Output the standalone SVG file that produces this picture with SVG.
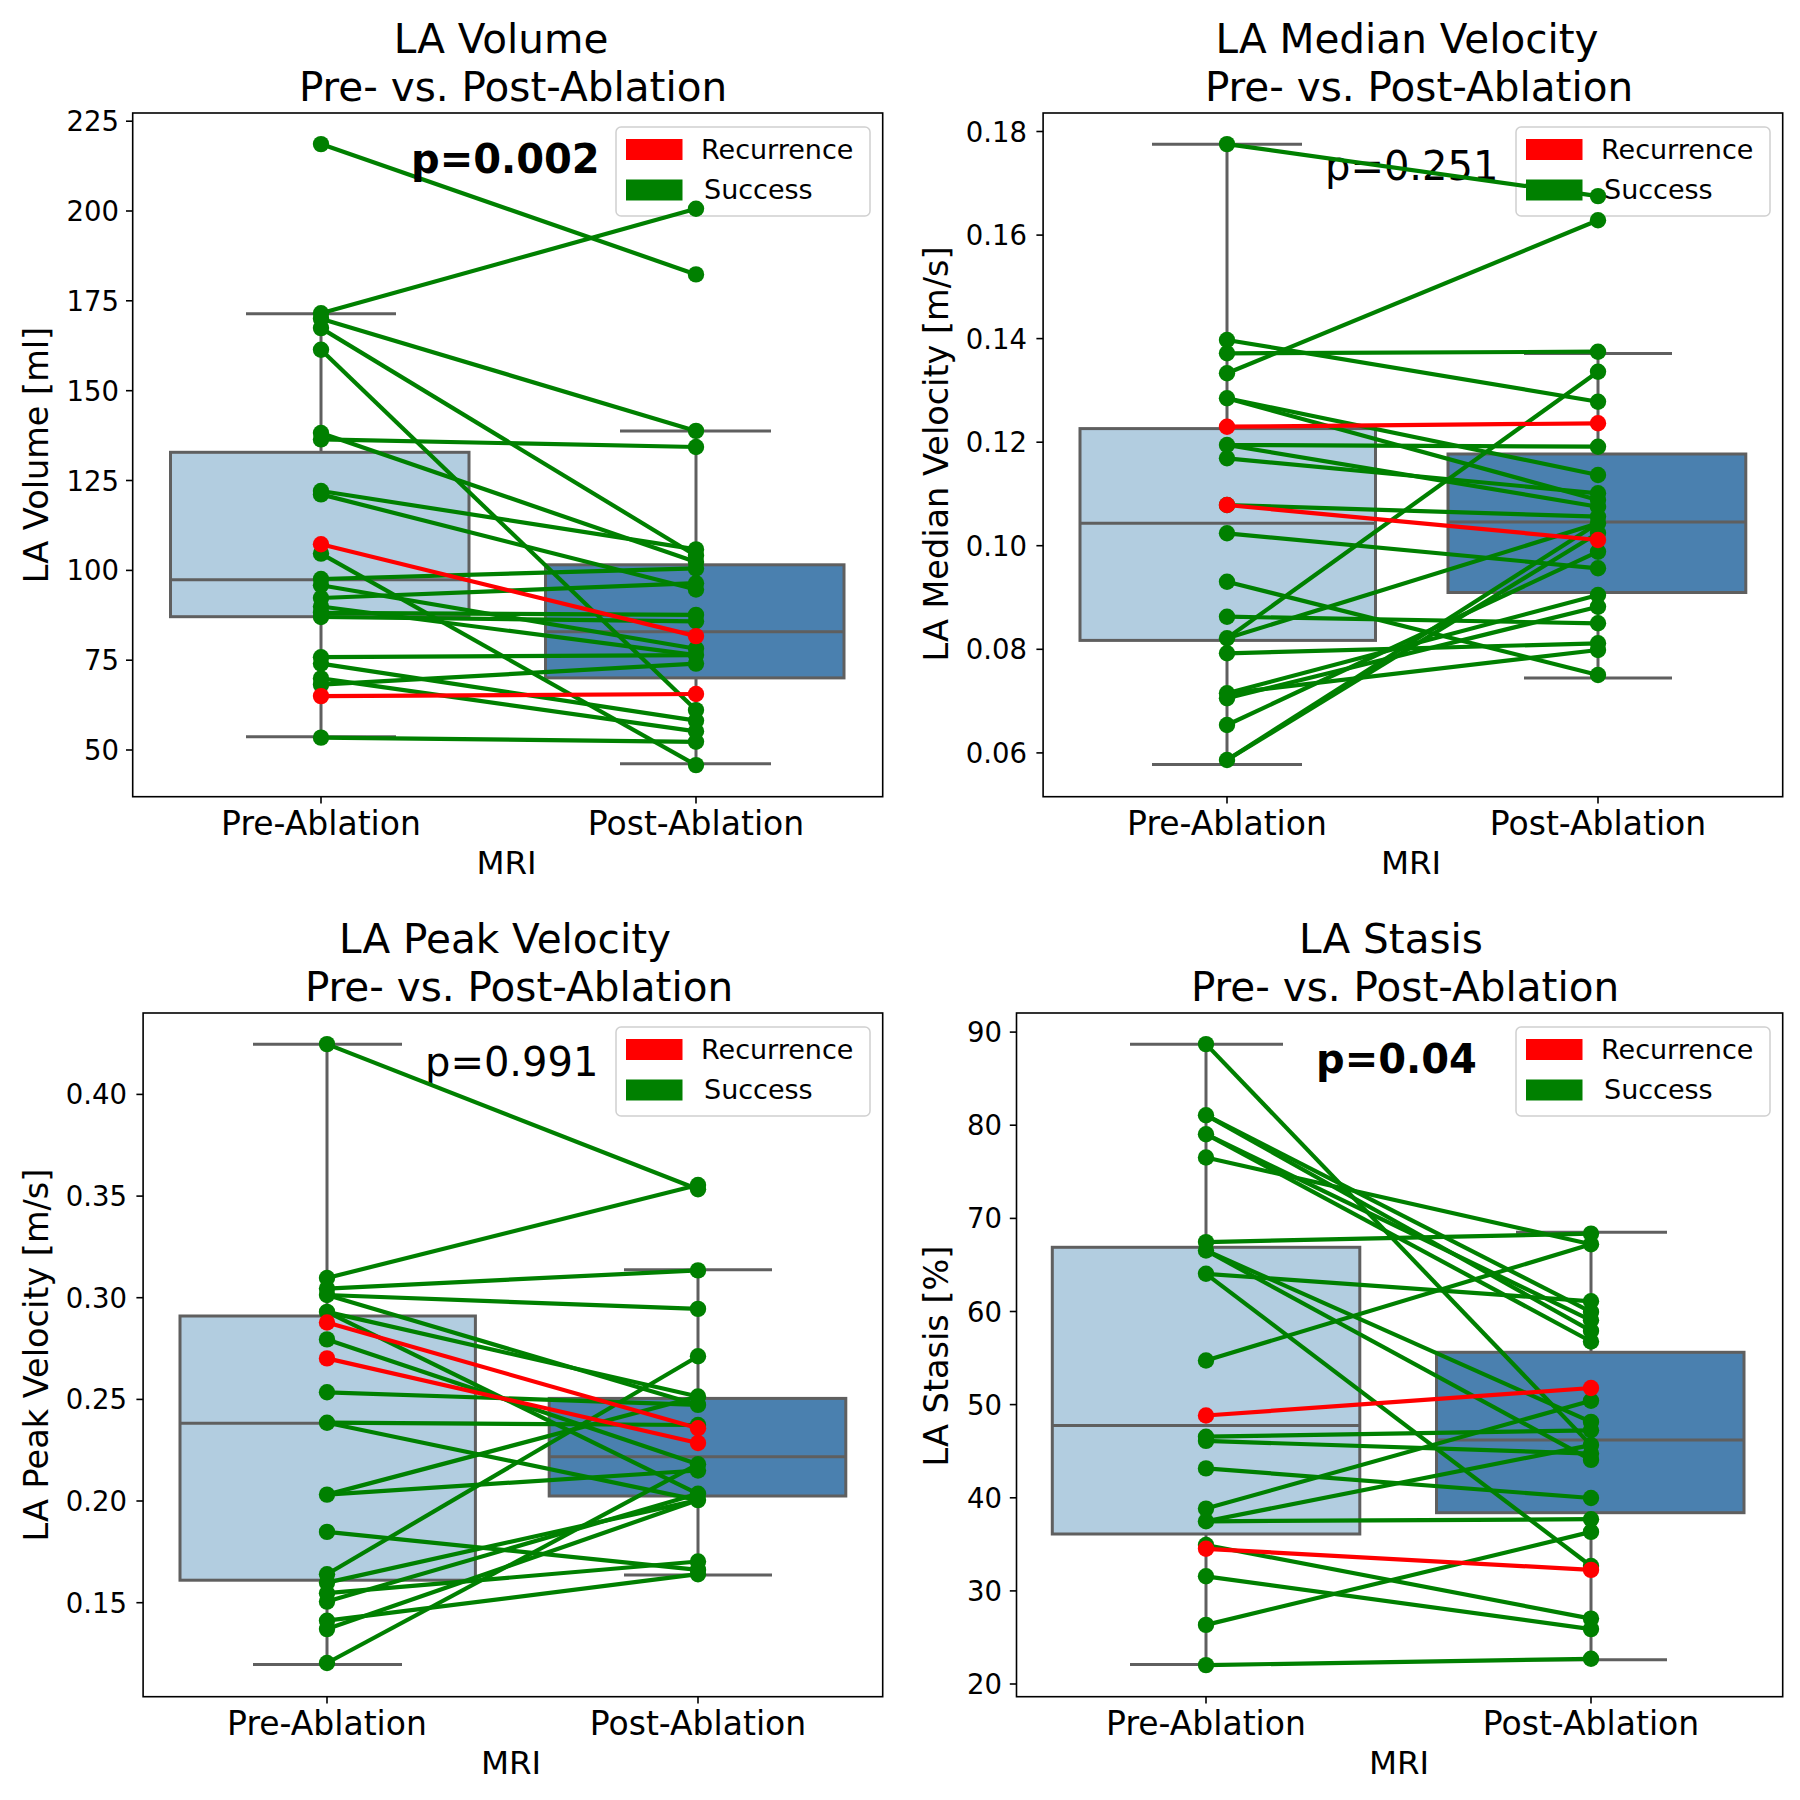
<svg xmlns="http://www.w3.org/2000/svg" width="1800" height="1800" viewBox="0 0 1800 1800">
<style>
text{font-family:"DejaVu Sans","Liberation Sans",sans-serif;fill:#000}
.frame{fill:none;stroke:#000;stroke-width:1.6}
.tk{stroke:#000;stroke-width:1.6}
.ytl{font-size:27.5px;text-anchor:end;dominant-baseline:central}
.xtl{font-size:33px;text-anchor:middle}
.xl{font-size:32.5px;text-anchor:middle}
.yl{font-size:33.5px;text-anchor:middle}
.ttl{font-size:40.5px;text-anchor:middle}
.pv{font-size:40px}
.pb{font-size:40px;font-weight:bold}
.b1{fill:#b2cde0;stroke:#5f5f5f;stroke-width:3}
.b2{fill:#4a80af;stroke:#5f5f5f;stroke-width:3}
.wh{stroke:#5f5f5f;stroke-width:3;fill:none}
.leg{fill:#fff;fill-opacity:0.8;stroke:#d0d0d0;stroke-width:1.5}
.lt{font-size:27px}
.g line{stroke:#008000;stroke-width:4.2}
.g circle{fill:#008000}
.r line{stroke:#ff0000;stroke-width:4.2}
.r circle{fill:#ff0000}
</style>
<rect width="1800" height="1800" fill="#fff"/>

<!-- Panel 1 -->
<g id="panel-volume">
<text class="ttl" x="501" y="52.5">LA Volume</text>
<text class="ttl" x="513" y="101">Pre- vs. Post-Ablation</text>
<g id="p1-box-pre">
<line class="wh" x1="321" y1="452.3" x2="321" y2="313.8"/><line class="wh" x1="321" y1="616.7" x2="321" y2="736.7"/>
<line class="wh" x1="246" y1="313.8" x2="396" y2="313.8"/><line class="wh" x1="246" y1="736.7" x2="396" y2="736.7"/>
<rect class="b1" x="170.5" y="452.3" width="298.5" height="164.4"/>
<line class="wh" x1="170.5" y1="579.8" x2="469" y2="579.8"/>
</g>
<g id="p1-box-post">
<line class="wh" x1="696" y1="564.8" x2="696" y2="431"/><line class="wh" x1="696" y1="677.9" x2="696" y2="763.8"/>
<line class="wh" x1="620" y1="431" x2="771" y2="431"/><line class="wh" x1="620" y1="763.8" x2="771" y2="763.8"/>
<rect class="b2" x="545.5" y="564.8" width="298.5" height="113.1"/>
<line class="wh" x1="545.5" y1="631.7" x2="844" y2="631.7"/>
</g>
<rect class="frame" x="132.7" y="113" width="750" height="683.7"/>
<g id="p1-yaxis">
<line class="tk" x1="126" y1="121.2" x2="132.7" y2="121.2"/><text class="ytl" x="119" y="121.2">225</text>
<line class="tk" x1="126" y1="211" x2="132.7" y2="211"/><text class="ytl" x="119" y="211">200</text>
<line class="tk" x1="126" y1="300.8" x2="132.7" y2="300.8"/><text class="ytl" x="119" y="300.8">175</text>
<line class="tk" x1="126" y1="390.7" x2="132.7" y2="390.7"/><text class="ytl" x="119" y="390.7">150</text>
<line class="tk" x1="126" y1="480.5" x2="132.7" y2="480.5"/><text class="ytl" x="119" y="480.5">125</text>
<line class="tk" x1="126" y1="570.4" x2="132.7" y2="570.4"/><text class="ytl" x="119" y="570.4">100</text>
<line class="tk" x1="126" y1="660.2" x2="132.7" y2="660.2"/><text class="ytl" x="119" y="660.2">75</text>
<line class="tk" x1="126" y1="750" x2="132.7" y2="750"/><text class="ytl" x="119" y="750">50</text>
<text class="yl" transform="translate(48,455) rotate(-90)">LA Volume [ml]</text>
</g>
<g id="p1-xaxis">
<line class="tk" x1="321" y1="796.7" x2="321" y2="803.5"/><line class="tk" x1="696" y1="796.7" x2="696" y2="803.5"/>
<text class="xtl" x="321" y="835">Pre-Ablation</text><text class="xtl" x="696" y="835">Post-Ablation</text>
<text class="xl" x="506.5" y="874">MRI</text>
</g>
<g id="p1-legend">
<rect class="leg" x="616" y="127" width="254" height="89" rx="5"/>
<rect x="626" y="139" width="56.5" height="21" fill="#ff0000"/>
<rect x="626" y="179.5" width="56.5" height="21" fill="#008000"/>
<text class="lt" x="701" y="158.6">Recurrence</text>
<text class="lt" x="704" y="199">Success</text>
</g>
<g id="p1-connectors">
<g class="g">
<line x1="321" y1="144.1" x2="696" y2="274.4"/><line x1="321" y1="313.3" x2="696" y2="208.8"/><line x1="321" y1="318.8" x2="696" y2="430.9"/><line x1="321" y1="328.1" x2="696" y2="555.7"/><line x1="321" y1="349.7" x2="696" y2="710.1"/><line x1="321" y1="433" x2="696" y2="562"/><line x1="321" y1="439.4" x2="696" y2="447"/><line x1="321" y1="491" x2="696" y2="549.4"/><line x1="321" y1="494.4" x2="696" y2="589.5"/><line x1="321" y1="553.6" x2="696" y2="765.1"/><line x1="321" y1="579" x2="696" y2="568.4"/><line x1="321" y1="585.3" x2="696" y2="648.8"/><line x1="321" y1="598" x2="696" y2="583.2"/><line x1="321" y1="606.5" x2="696" y2="655.1"/><line x1="321" y1="612.8" x2="696" y2="614.9"/><line x1="321" y1="617" x2="696" y2="621.3"/><line x1="321" y1="657.2" x2="696" y2="655.1"/><line x1="321" y1="663.6" x2="696" y2="720.7"/><line x1="321" y1="678.4" x2="696" y2="731.3"/><line x1="321" y1="684.7" x2="696" y2="663.6"/><line x1="321" y1="737.6" x2="696" y2="741.8"/>
<circle cx="321" cy="144.1" r="8.2"/><circle cx="321" cy="313.3" r="8.2"/><circle cx="321" cy="318.8" r="8.2"/><circle cx="321" cy="328.1" r="8.2"/><circle cx="321" cy="349.7" r="8.2"/><circle cx="321" cy="433" r="8.2"/><circle cx="321" cy="439.4" r="8.2"/><circle cx="321" cy="491" r="8.2"/><circle cx="321" cy="494.4" r="8.2"/><circle cx="321" cy="553.6" r="8.2"/><circle cx="321" cy="579" r="8.2"/><circle cx="321" cy="585.3" r="8.2"/><circle cx="321" cy="598" r="8.2"/><circle cx="321" cy="606.5" r="8.2"/><circle cx="321" cy="612.8" r="8.2"/><circle cx="321" cy="617" r="8.2"/><circle cx="321" cy="657.2" r="8.2"/><circle cx="321" cy="663.6" r="8.2"/><circle cx="321" cy="678.4" r="8.2"/><circle cx="321" cy="684.7" r="8.2"/><circle cx="321" cy="737.6" r="8.2"/>
<circle cx="696" cy="274.4" r="8.2"/><circle cx="696" cy="208.8" r="8.2"/><circle cx="696" cy="430.9" r="8.2"/><circle cx="696" cy="555.7" r="8.2"/><circle cx="696" cy="710.1" r="8.2"/><circle cx="696" cy="562" r="8.2"/><circle cx="696" cy="447" r="8.2"/><circle cx="696" cy="549.4" r="8.2"/><circle cx="696" cy="589.5" r="8.2"/><circle cx="696" cy="765.1" r="8.2"/><circle cx="696" cy="568.4" r="8.2"/><circle cx="696" cy="648.8" r="8.2"/><circle cx="696" cy="583.2" r="8.2"/><circle cx="696" cy="655.1" r="8.2"/><circle cx="696" cy="614.9" r="8.2"/><circle cx="696" cy="621.3" r="8.2"/><circle cx="696" cy="720.7" r="8.2"/><circle cx="696" cy="731.3" r="8.2"/><circle cx="696" cy="663.6" r="8.2"/><circle cx="696" cy="741.8" r="8.2"/>
</g>
<g class="r">
<line x1="321" y1="544.3" x2="696" y2="636.1"/><line x1="321" y1="696.1" x2="696" y2="694"/>
<circle cx="321" cy="544.3" r="8.2"/><circle cx="696" cy="636.1" r="8.2"/><circle cx="321" cy="696.1" r="8.2"/><circle cx="696" cy="694" r="8.2"/>
</g>
</g>
<text class="pb" x="411" y="173">p=0.002</text>
</g>

<!-- Panel 2 -->
<g id="panel-median">
<text class="ttl" x="1407" y="52.5">LA Median Velocity</text>
<text class="ttl" x="1419" y="101">Pre- vs. Post-Ablation</text>
<g id="p2-box-pre">
<line class="wh" x1="1227" y1="428.6" x2="1227" y2="144.2"/><line class="wh" x1="1227" y1="640.4" x2="1227" y2="764.4"/>
<line class="wh" x1="1152" y1="144.2" x2="1302" y2="144.2"/><line class="wh" x1="1152" y1="764.4" x2="1302" y2="764.4"/>
<rect class="b1" x="1080" y="428.6" width="295.5" height="211.8"/>
<line class="wh" x1="1080" y1="523.3" x2="1375.5" y2="523.3"/>
</g>
<g id="p2-box-post">
<line class="wh" x1="1598" y1="454" x2="1598" y2="353.6"/><line class="wh" x1="1598" y1="592.5" x2="1598" y2="677.9"/>
<line class="wh" x1="1524" y1="353.6" x2="1672" y2="353.6"/><line class="wh" x1="1524" y1="677.9" x2="1672" y2="677.9"/>
<rect class="b2" x="1448" y="454" width="297.8" height="138.5"/>
<line class="wh" x1="1448" y1="522.1" x2="1745.8" y2="522.1"/>
</g>
<rect class="frame" x="1043.1" y="113" width="739.6" height="683.7"/>
<g id="p2-yaxis">
<line class="tk" x1="1036.4" y1="131.5" x2="1043.1" y2="131.5"/><text class="ytl" x="1027" y="131.5">0.18</text>
<line class="tk" x1="1036.4" y1="235.1" x2="1043.1" y2="235.1"/><text class="ytl" x="1027" y="235.1">0.16</text>
<line class="tk" x1="1036.4" y1="338.6" x2="1043.1" y2="338.6"/><text class="ytl" x="1027" y="338.6">0.14</text>
<line class="tk" x1="1036.4" y1="442.2" x2="1043.1" y2="442.2"/><text class="ytl" x="1027" y="442.2">0.12</text>
<line class="tk" x1="1036.4" y1="545.7" x2="1043.1" y2="545.7"/><text class="ytl" x="1027" y="545.7">0.10</text>
<line class="tk" x1="1036.4" y1="649.3" x2="1043.1" y2="649.3"/><text class="ytl" x="1027" y="649.3">0.08</text>
<line class="tk" x1="1036.4" y1="752.9" x2="1043.1" y2="752.9"/><text class="ytl" x="1027" y="752.9">0.06</text>
<text class="yl" transform="translate(948,454) rotate(-90)">LA Median Velocity [m/s]</text>
</g>
<g id="p2-xaxis">
<line class="tk" x1="1227" y1="796.7" x2="1227" y2="803.5"/><line class="tk" x1="1598" y1="796.7" x2="1598" y2="803.5"/>
<text class="xtl" x="1227" y="835">Pre-Ablation</text><text class="xtl" x="1598" y="835">Post-Ablation</text>
<text class="xl" x="1411" y="874">MRI</text>
</g>
<g id="p2-legend">
<rect class="leg" x="1516" y="127" width="254" height="89" rx="5"/>
<rect x="1526" y="139" width="56.5" height="21" fill="#ff0000"/>
<rect x="1526" y="179.5" width="56.5" height="21" fill="#008000"/>
<text class="lt" x="1601" y="158.6">Recurrence</text>
<text class="lt" x="1604" y="199">Success</text>
</g>
<text class="pv" x="1325" y="180">p=0.251</text>
<g id="p2-connectors">
<g class="g">
<line x1="1227" y1="144.1" x2="1598" y2="196.1"/><line x1="1227" y1="340" x2="1598" y2="401.7"/><line x1="1227" y1="353.3" x2="1598" y2="351.7"/><line x1="1227" y1="373.3" x2="1598" y2="220.3"/><line x1="1227" y1="398.3" x2="1598" y2="475"/><line x1="1227" y1="398.3" x2="1598" y2="500"/><line x1="1227" y1="445" x2="1598" y2="446.7"/><line x1="1227" y1="445" x2="1598" y2="506.7"/><line x1="1227" y1="458.3" x2="1598" y2="493.3"/><line x1="1227" y1="505" x2="1598" y2="516.7"/><line x1="1227" y1="533.3" x2="1598" y2="568.3"/><line x1="1227" y1="581.7" x2="1598" y2="675"/><line x1="1227" y1="616.7" x2="1598" y2="623.3"/><line x1="1227" y1="638.3" x2="1598" y2="371.7"/><line x1="1227" y1="638.3" x2="1598" y2="523.3"/><line x1="1227" y1="653.3" x2="1598" y2="643.3"/><line x1="1227" y1="693.3" x2="1598" y2="595"/><line x1="1227" y1="698.3" x2="1598" y2="606.7"/><line x1="1227" y1="693.3" x2="1598" y2="650"/><line x1="1227" y1="725" x2="1598" y2="551.7"/><line x1="1227" y1="760" x2="1598" y2="523.3"/><line x1="1227" y1="760" x2="1598" y2="533"/>
<circle cx="1227" cy="144.1" r="8.2"/><circle cx="1227" cy="340" r="8.2"/><circle cx="1227" cy="353.3" r="8.2"/><circle cx="1227" cy="373.3" r="8.2"/><circle cx="1227" cy="398.3" r="8.2"/><circle cx="1227" cy="445" r="8.2"/><circle cx="1227" cy="458.3" r="8.2"/><circle cx="1227" cy="505" r="8.2"/><circle cx="1227" cy="533.3" r="8.2"/><circle cx="1227" cy="581.7" r="8.2"/><circle cx="1227" cy="616.7" r="8.2"/><circle cx="1227" cy="638.3" r="8.2"/><circle cx="1227" cy="653.3" r="8.2"/><circle cx="1227" cy="693.3" r="8.2"/><circle cx="1227" cy="698.3" r="8.2"/><circle cx="1227" cy="725" r="8.2"/><circle cx="1227" cy="760" r="8.2"/>
<circle cx="1598" cy="196.1" r="8.2"/><circle cx="1598" cy="220.3" r="8.2"/><circle cx="1598" cy="351.7" r="8.2"/><circle cx="1598" cy="371.7" r="8.2"/><circle cx="1598" cy="401.7" r="8.2"/><circle cx="1598" cy="446.7" r="8.2"/><circle cx="1598" cy="475" r="8.2"/><circle cx="1598" cy="493.3" r="8.2"/><circle cx="1598" cy="500" r="8.2"/><circle cx="1598" cy="506.7" r="8.2"/><circle cx="1598" cy="516.7" r="8.2"/><circle cx="1598" cy="523.3" r="8.2"/><circle cx="1598" cy="533" r="8.2"/><circle cx="1598" cy="551.7" r="8.2"/><circle cx="1598" cy="568.3" r="8.2"/><circle cx="1598" cy="595" r="8.2"/><circle cx="1598" cy="606.7" r="8.2"/><circle cx="1598" cy="623.3" r="8.2"/><circle cx="1598" cy="643.3" r="8.2"/><circle cx="1598" cy="650" r="8.2"/><circle cx="1598" cy="675" r="8.2"/>
</g>
<g class="r">
<line x1="1227" y1="426.7" x2="1598" y2="423.3"/><line x1="1227" y1="505" x2="1598" y2="540"/>
<circle cx="1227" cy="426.7" r="8.2"/><circle cx="1598" cy="423.3" r="8.2"/><circle cx="1227" cy="505" r="8.2"/><circle cx="1598" cy="540" r="8.2"/>
</g>
</g>
</g>

<!-- Panel 3 -->
<g id="panel-peak">
<text class="ttl" x="505" y="952.5">LA Peak Velocity</text>
<text class="ttl" x="519" y="1001">Pre- vs. Post-Ablation</text>
<g id="p3-box-pre">
<line class="wh" x1="327" y1="1316" x2="327" y2="1044.2"/><line class="wh" x1="327" y1="1580.2" x2="327" y2="1664.4"/>
<line class="wh" x1="253" y1="1044.2" x2="402" y2="1044.2"/><line class="wh" x1="253" y1="1664.4" x2="402" y2="1664.4"/>
<rect class="b1" x="180" y="1316" width="295.4" height="264.2"/>
<line class="wh" x1="180" y1="1423.3" x2="475.4" y2="1423.3"/>
</g>
<g id="p3-box-post">
<line class="wh" x1="698" y1="1398.4" x2="698" y2="1269.8"/><line class="wh" x1="698" y1="1496" x2="698" y2="1575"/>
<line class="wh" x1="624" y1="1269.8" x2="772" y2="1269.8"/><line class="wh" x1="624" y1="1575" x2="772" y2="1575"/>
<rect class="b2" x="549.2" y="1398.4" width="296.6" height="97.6"/>
<line class="wh" x1="549.2" y1="1456.7" x2="845.8" y2="1456.7"/>
</g>
<rect class="frame" x="143.1" y="1013" width="739.6" height="683.7"/>
<g id="p3-yaxis">
<line class="tk" x1="136.4" y1="1094.4" x2="143.1" y2="1094.4"/><text class="ytl" x="127" y="1094.4">0.40</text>
<line class="tk" x1="136.4" y1="1196.1" x2="143.1" y2="1196.1"/><text class="ytl" x="127" y="1196.1">0.35</text>
<line class="tk" x1="136.4" y1="1297.7" x2="143.1" y2="1297.7"/><text class="ytl" x="127" y="1297.7">0.30</text>
<line class="tk" x1="136.4" y1="1399.4" x2="143.1" y2="1399.4"/><text class="ytl" x="127" y="1399.4">0.25</text>
<line class="tk" x1="136.4" y1="1501" x2="143.1" y2="1501"/><text class="ytl" x="127" y="1501">0.20</text>
<line class="tk" x1="136.4" y1="1602.7" x2="143.1" y2="1602.7"/><text class="ytl" x="127" y="1602.7">0.15</text>
<text class="yl" transform="translate(48,1355) rotate(-90)">LA Peak Velocity [m/s]</text>
</g>
<g id="p3-xaxis">
<line class="tk" x1="327" y1="1696.7" x2="327" y2="1703.5"/><line class="tk" x1="698" y1="1696.7" x2="698" y2="1703.5"/>
<text class="xtl" x="327" y="1735">Pre-Ablation</text><text class="xtl" x="698" y="1735">Post-Ablation</text>
<text class="xl" x="511" y="1774">MRI</text>
</g>
<g id="p3-legend">
<rect class="leg" x="616" y="1027" width="254" height="89" rx="5"/>
<rect x="626" y="1039" width="56.5" height="21" fill="#ff0000"/>
<rect x="626" y="1079.5" width="56.5" height="21" fill="#008000"/>
<text class="lt" x="701" y="1058.6">Recurrence</text>
<text class="lt" x="704" y="1099">Success</text>
</g>
<text class="pv" x="425" y="1076">p=0.991</text>
<g id="p3-connectors">
<g class="g">
<line x1="327" y1="1044.1" x2="698" y2="1189.2"/><line x1="327" y1="1278" x2="698" y2="1185"/><line x1="327" y1="1288.6" x2="698" y2="1270.4"/><line x1="327" y1="1295" x2="698" y2="1308.9"/><line x1="327" y1="1295" x2="698" y2="1404.9"/><line x1="327" y1="1311.9" x2="698" y2="1396.5"/><line x1="327" y1="1339.4" x2="698" y2="1464.2"/><line x1="327" y1="1311.9" x2="698" y2="1493.8"/><line x1="327" y1="1392.3" x2="698" y2="1404.9"/><line x1="327" y1="1422.7" x2="698" y2="1425"/><line x1="327" y1="1422.7" x2="698" y2="1500.1"/><line x1="327" y1="1494.6" x2="698" y2="1396.5"/><line x1="327" y1="1494.6" x2="698" y2="1470.5"/><line x1="327" y1="1531.9" x2="698" y2="1569.9"/><line x1="327" y1="1574.2" x2="698" y2="1356.3"/><line x1="327" y1="1582.6" x2="698" y2="1500.1"/><line x1="327" y1="1593.2" x2="698" y2="1561.5"/><line x1="327" y1="1601.6" x2="698" y2="1493.8"/><line x1="327" y1="1620.7" x2="698" y2="1574.2"/><line x1="327" y1="1629.1" x2="698" y2="1500.1"/><line x1="327" y1="1663" x2="698" y2="1464.2"/>
<circle cx="327" cy="1044.1" r="8.2"/><circle cx="327" cy="1278" r="8.2"/><circle cx="327" cy="1288.6" r="8.2"/><circle cx="327" cy="1295" r="8.2"/><circle cx="327" cy="1311.9" r="8.2"/><circle cx="327" cy="1339.4" r="8.2"/><circle cx="327" cy="1392.3" r="8.2"/><circle cx="327" cy="1422.7" r="8.2"/><circle cx="327" cy="1494.6" r="8.2"/><circle cx="327" cy="1531.9" r="8.2"/><circle cx="327" cy="1574.2" r="8.2"/><circle cx="327" cy="1582.6" r="8.2"/><circle cx="327" cy="1593.2" r="8.2"/><circle cx="327" cy="1601.6" r="8.2"/><circle cx="327" cy="1620.7" r="8.2"/><circle cx="327" cy="1629.1" r="8.2"/><circle cx="327" cy="1663" r="8.2"/>
<circle cx="698" cy="1189.2" r="8.2"/><circle cx="698" cy="1185" r="8.2"/><circle cx="698" cy="1270.4" r="8.2"/><circle cx="698" cy="1308.9" r="8.2"/><circle cx="698" cy="1404.9" r="8.2"/><circle cx="698" cy="1396.5" r="8.2"/><circle cx="698" cy="1464.2" r="8.2"/><circle cx="698" cy="1493.8" r="8.2"/><circle cx="698" cy="1425" r="8.2"/><circle cx="698" cy="1500.1" r="8.2"/><circle cx="698" cy="1470.5" r="8.2"/><circle cx="698" cy="1569.9" r="8.2"/><circle cx="698" cy="1356.3" r="8.2"/><circle cx="698" cy="1561.5" r="8.2"/><circle cx="698" cy="1574.2" r="8.2"/>
</g>
<g class="r">
<line x1="327" y1="1322.5" x2="698" y2="1428.2"/><line x1="327" y1="1358.4" x2="698" y2="1443"/>
<circle cx="327" cy="1322.5" r="8.2"/><circle cx="698" cy="1428.2" r="8.2"/><circle cx="327" cy="1358.4" r="8.2"/><circle cx="698" cy="1443" r="8.2"/>
</g>
</g>
</g>

<!-- Panel 4 -->
<g id="panel-stasis">
<text class="ttl" x="1391" y="952.5">LA Stasis</text>
<text class="ttl" x="1405" y="1001">Pre- vs. Post-Ablation</text>
<g id="p4-box-pre">
<line class="wh" x1="1206" y1="1247.3" x2="1206" y2="1044.2"/><line class="wh" x1="1206" y1="1534" x2="1206" y2="1664.4"/>
<line class="wh" x1="1130" y1="1044.2" x2="1283" y2="1044.2"/><line class="wh" x1="1130" y1="1664.4" x2="1283" y2="1664.4"/>
<rect class="b1" x="1052.3" y="1247.3" width="307.5" height="286.7"/>
<line class="wh" x1="1052.3" y1="1425.6" x2="1359.8" y2="1425.6"/>
</g>
<g id="p4-box-post">
<line class="wh" x1="1591" y1="1352.3" x2="1591" y2="1232.3"/><line class="wh" x1="1591" y1="1512.7" x2="1591" y2="1659.8"/>
<line class="wh" x1="1516" y1="1232.3" x2="1667" y2="1232.3"/><line class="wh" x1="1516" y1="1659.8" x2="1667" y2="1659.8"/>
<rect class="b2" x="1436.5" y="1352.3" width="307.5" height="160.4"/>
<line class="wh" x1="1436.5" y1="1440" x2="1744" y2="1440"/>
</g>
<rect class="frame" x="1016.5" y="1013" width="766.2" height="683.7"/>
<g id="p4-yaxis">
<line class="tk" x1="1009.8" y1="1032.1" x2="1016.5" y2="1032.1"/><text class="ytl" x="1002" y="1032.1">90</text>
<line class="tk" x1="1009.8" y1="1125.2" x2="1016.5" y2="1125.2"/><text class="ytl" x="1002" y="1125.2">80</text>
<line class="tk" x1="1009.8" y1="1218.4" x2="1016.5" y2="1218.4"/><text class="ytl" x="1002" y="1218.4">70</text>
<line class="tk" x1="1009.8" y1="1311.5" x2="1016.5" y2="1311.5"/><text class="ytl" x="1002" y="1311.5">60</text>
<line class="tk" x1="1009.8" y1="1404.6" x2="1016.5" y2="1404.6"/><text class="ytl" x="1002" y="1404.6">50</text>
<line class="tk" x1="1009.8" y1="1497.8" x2="1016.5" y2="1497.8"/><text class="ytl" x="1002" y="1497.8">40</text>
<line class="tk" x1="1009.8" y1="1590.9" x2="1016.5" y2="1590.9"/><text class="ytl" x="1002" y="1590.9">30</text>
<line class="tk" x1="1009.8" y1="1684" x2="1016.5" y2="1684"/><text class="ytl" x="1002" y="1684">20</text>
<text class="yl" transform="translate(948,1356) rotate(-90)">LA Stasis [%]</text>
</g>
<g id="p4-xaxis">
<line class="tk" x1="1206" y1="1696.7" x2="1206" y2="1703.5"/><line class="tk" x1="1591" y1="1696.7" x2="1591" y2="1703.5"/>
<text class="xtl" x="1206" y="1735">Pre-Ablation</text><text class="xtl" x="1591" y="1735">Post-Ablation</text>
<text class="xl" x="1399" y="1774">MRI</text>
</g>
<g id="p4-legend">
<rect class="leg" x="1516" y="1027" width="254" height="89" rx="5"/>
<rect x="1526" y="1039" width="56.5" height="21" fill="#ff0000"/>
<rect x="1526" y="1079.5" width="56.5" height="21" fill="#008000"/>
<text class="lt" x="1601" y="1058.6">Recurrence</text>
<text class="lt" x="1604" y="1099">Success</text>
</g>
<text class="pb" x="1316" y="1073">p=0.04</text>
<g id="p4-connectors">
<g class="g">
<line x1="1206" y1="1044.1" x2="1591" y2="1445.1"/><line x1="1206" y1="1115.2" x2="1591" y2="1311.9"/><line x1="1206" y1="1115.2" x2="1591" y2="1330.9"/><line x1="1206" y1="1134.2" x2="1591" y2="1341.5"/><line x1="1206" y1="1157.5" x2="1591" y2="1244.2"/><line x1="1206" y1="1242.1" x2="1591" y2="1233.6"/><line x1="1206" y1="1250.5" x2="1591" y2="1421.9"/><line x1="1206" y1="1250.5" x2="1591" y2="1459.9"/><line x1="1206" y1="1273.8" x2="1591" y2="1301.3"/><line x1="1206" y1="1273.8" x2="1591" y2="1566"/><line x1="1206" y1="1360.5" x2="1591" y2="1244.2"/><line x1="1206" y1="1436.7" x2="1591" y2="1430.3"/><line x1="1206" y1="1440.9" x2="1591" y2="1453.6"/><line x1="1206" y1="1468.4" x2="1591" y2="1498"/><line x1="1206" y1="1508.6" x2="1591" y2="1400.7"/><line x1="1206" y1="1521.3" x2="1591" y2="1519.2"/><line x1="1206" y1="1521.3" x2="1591" y2="1445.1"/><line x1="1206" y1="1576.3" x2="1591" y2="1629.1"/><line x1="1206" y1="1545" x2="1591" y2="1618.6"/><line x1="1206" y1="1624.9" x2="1591" y2="1531.9"/><line x1="1206" y1="1665.1" x2="1591" y2="1658.8"/><line x1="1206" y1="1134.2" x2="1591" y2="1320.3"/>
<circle cx="1206" cy="1044.1" r="8.2"/><circle cx="1206" cy="1115.2" r="8.2"/><circle cx="1206" cy="1134.2" r="8.2"/><circle cx="1206" cy="1157.5" r="8.2"/><circle cx="1206" cy="1242.1" r="8.2"/><circle cx="1206" cy="1250.5" r="8.2"/><circle cx="1206" cy="1273.8" r="8.2"/><circle cx="1206" cy="1360.5" r="8.2"/><circle cx="1206" cy="1436.7" r="8.2"/><circle cx="1206" cy="1440.9" r="8.2"/><circle cx="1206" cy="1468.4" r="8.2"/><circle cx="1206" cy="1508.6" r="8.2"/><circle cx="1206" cy="1521.3" r="8.2"/><circle cx="1206" cy="1576.3" r="8.2"/><circle cx="1206" cy="1545" r="8.2"/><circle cx="1206" cy="1624.9" r="8.2"/><circle cx="1206" cy="1665.1" r="8.2"/>
<circle cx="1591" cy="1445.1" r="8.2"/><circle cx="1591" cy="1311.9" r="8.2"/><circle cx="1591" cy="1330.9" r="8.2"/><circle cx="1591" cy="1341.5" r="8.2"/><circle cx="1591" cy="1244.2" r="8.2"/><circle cx="1591" cy="1233.6" r="8.2"/><circle cx="1591" cy="1421.9" r="8.2"/><circle cx="1591" cy="1459.9" r="8.2"/><circle cx="1591" cy="1301.3" r="8.2"/><circle cx="1591" cy="1566" r="8.2"/><circle cx="1591" cy="1430.3" r="8.2"/><circle cx="1591" cy="1453.6" r="8.2"/><circle cx="1591" cy="1498" r="8.2"/><circle cx="1591" cy="1400.7" r="8.2"/><circle cx="1591" cy="1519.2" r="8.2"/><circle cx="1591" cy="1629.1" r="8.2"/><circle cx="1591" cy="1618.6" r="8.2"/><circle cx="1591" cy="1531.9" r="8.2"/><circle cx="1591" cy="1658.8" r="8.2"/><circle cx="1591" cy="1320.3" r="8.2"/>
</g>
<g class="r">
<line x1="1206" y1="1415.5" x2="1591" y2="1388"/><line x1="1206" y1="1548.8" x2="1591" y2="1569.9"/>
<circle cx="1206" cy="1415.5" r="8.2"/><circle cx="1591" cy="1388" r="8.2"/><circle cx="1206" cy="1548.8" r="8.2"/><circle cx="1591" cy="1569.9" r="8.2"/>
</g>
</g>
</g>
</svg>
